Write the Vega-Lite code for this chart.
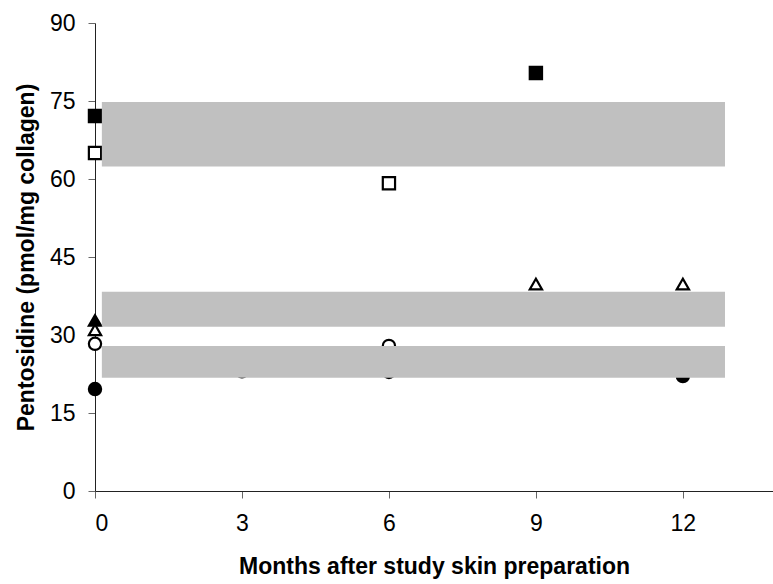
{
  "$schema": "https://vega.github.io/schema/vega-lite/v6.json",
  "width": 678,
  "height": 468,
  "autosize": "none",
  "padding": {"left": 95, "top": 23, "right": 0, "bottom": 93},
  "background": "white",
  "config": {
    "view": {"stroke": null},
    "font": "Liberation Sans",
    "axis": {
      "grid": false,
      "domainColor": "#222222",
      "tickColor": "#666666",
      "tickSize": 7,
      "labelFontSize": 23,
      "labelColor": "black",
      "titleFontSize": 23,
      "titleFontWeight": "bold",
      "titleColor": "black",
      "labelFont": "Liberation Sans",
      "titleFont": "Liberation Sans"
    }
  },
  "datasets": {
    "points": [
      {"month": 0, "series": "S1", "value": 72.1},
      {"month": 0, "series": "S2", "value": 65.0},
      {"month": 0, "series": "S3", "value": 32.8},
      {"month": 0, "series": "S4", "value": 31.0},
      {"month": 0, "series": "S5", "value": 28.3},
      {"month": 0, "series": "S6", "value": 19.6},
      {"month": 3, "series": "S3", "value": 33.5},
      {"month": 3, "series": "S6", "value": 23.0},
      {"month": 6, "series": "S2", "value": 59.2},
      {"month": 6, "series": "S5", "value": 27.9},
      {"month": 6, "series": "S6", "value": 22.9},
      {"month": 9, "series": "S1", "value": 80.4},
      {"month": 9, "series": "S4", "value": 39.8},
      {"month": 12, "series": "S4", "value": 39.8},
      {"month": 12, "series": "S6", "value": 22.1}
    ],
    "bands": [
      {"start": 0.14, "end": 12.86, "low": 62.4, "high": 74.8},
      {"start": 0.14, "end": 12.86, "low": 31.6, "high": 38.3},
      {"start": 0.14, "end": 12.86, "low": 21.8, "high": 27.9}
    ]
  },
  "layer": [
    {
      "data": {"name": "points"},
      "mark": {"type": "point", "filled": true, "stroke": "black", "strokeWidth": 2.2, "size": 150, "opacity": 1},
      "encoding": {
        "x": {
          "field": "month", "type": "quantitative",
          "scale": {"domain": [0, 13.84], "nice": false, "zero": false},
          "axis": {"values": [0, 3, 6, 9, 12], "title": "Months after study skin preparation", "titlePadding": 20, "labelPadding": 14}
        },
        "y": {
          "field": "value", "type": "quantitative",
          "scale": {"domain": [0, 90], "nice": false},
          "axis": {"values": [0, 15, 30, 45, 60, 75, 90], "title": "Pentosidine (pmol/mg collagen)", "titlePadding": 11, "labelPadding": 13}
        },
        "shape": {
          "field": "series", "type": "nominal", "legend": null,
          "scale": {"domain": ["S1", "S2", "S3", "S4", "S5", "S6"], "range": ["square", "square", "triangle-up", "triangle-up", "circle", "circle"]}
        },
        "fill": {
          "field": "series", "type": "nominal", "legend": null,
          "scale": {"domain": ["S1", "S2", "S3", "S4", "S5", "S6"], "range": ["black", "white", "black", "white", "white", "black"]}
        }
      }
    },
    {
      "data": {"name": "bands"},
      "mark": {"type": "rect", "color": "#c0c0c0", "opacity": 1},
      "encoding": {
        "x": {"field": "start", "type": "quantitative"},
        "x2": {"field": "end"},
        "y": {"field": "low", "type": "quantitative"},
        "y2": {"field": "high"}
      }
    }
  ]
}
